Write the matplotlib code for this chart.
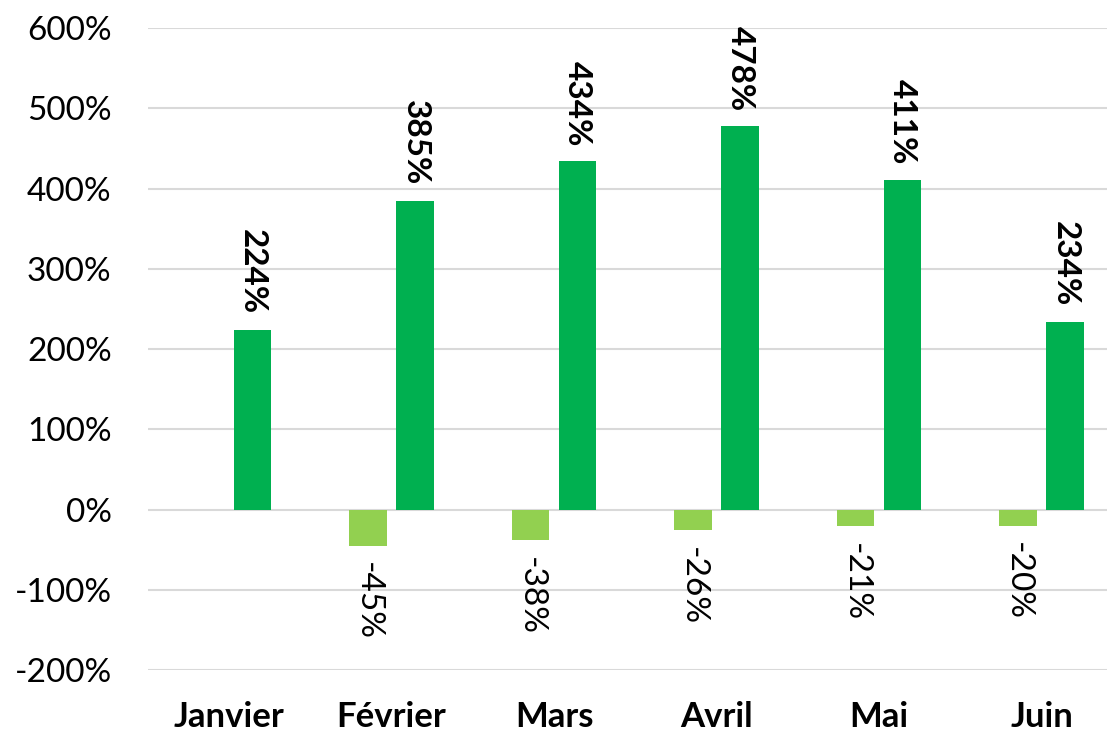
import numpy as np
import matplotlib.pyplot as plt

months = ["Janvier", "Février", "Mars", "Avril", "Mai", "Juin"]
baisse = [np.nan, -45, -38, -26, -21, -20]
hausse = [224, 385, 434, 478, 411, 234]

plt.rcParams["font.family"] = ["Lato", "DejaVu Sans"]

fig = plt.figure(figsize=(11.07, 7.33), dpi=100)
ax = fig.add_axes([0.1335, 0.0859, 0.8808, 0.8759])

x = np.arange(len(months))
w = 0.23
off = 0.145
ax.bar(x - off, baisse, w, color="#92D050", zorder=3)
ax.bar(x + off, hausse, w, color="#00B050", zorder=3)

for xi, v in zip(x, baisse):
    if np.isnan(v):
        continue
    ax.annotate(f"{v:.0f}%", (xi - off, v), xytext=(0, -12), textcoords="offset points",
                rotation=270, ha="center", va="top", fontsize=24)
for xi, v in zip(x, hausse):
    ax.annotate(f"{v:.0f}%", (xi + off, v), xytext=(0, 11), textcoords="offset points",
                rotation=270, ha="center", va="bottom", fontsize=24, fontweight="bold")

ax.set_xlim(-0.5, len(months) - 0.5)
ax.set_ylim(-200, 600)
ax.set_yticks(range(-200, 601, 100))
ax.set_yticklabels([f"{t}%" for t in range(-200, 601, 100)], fontsize=24)
ax.set_xticks(x)
ax.set_xticklabels(months, fontsize=25, fontweight="bold")
ax.tick_params(axis="y", length=0, pad=26)
ax.tick_params(axis="x", length=0, pad=22)
ax.grid(axis="y", color="#d9d9d9", linewidth=1.5, zorder=0)
for s in ax.spines.values():
    s.set_visible(False)

fig.savefig("out.png", dpi=100)
